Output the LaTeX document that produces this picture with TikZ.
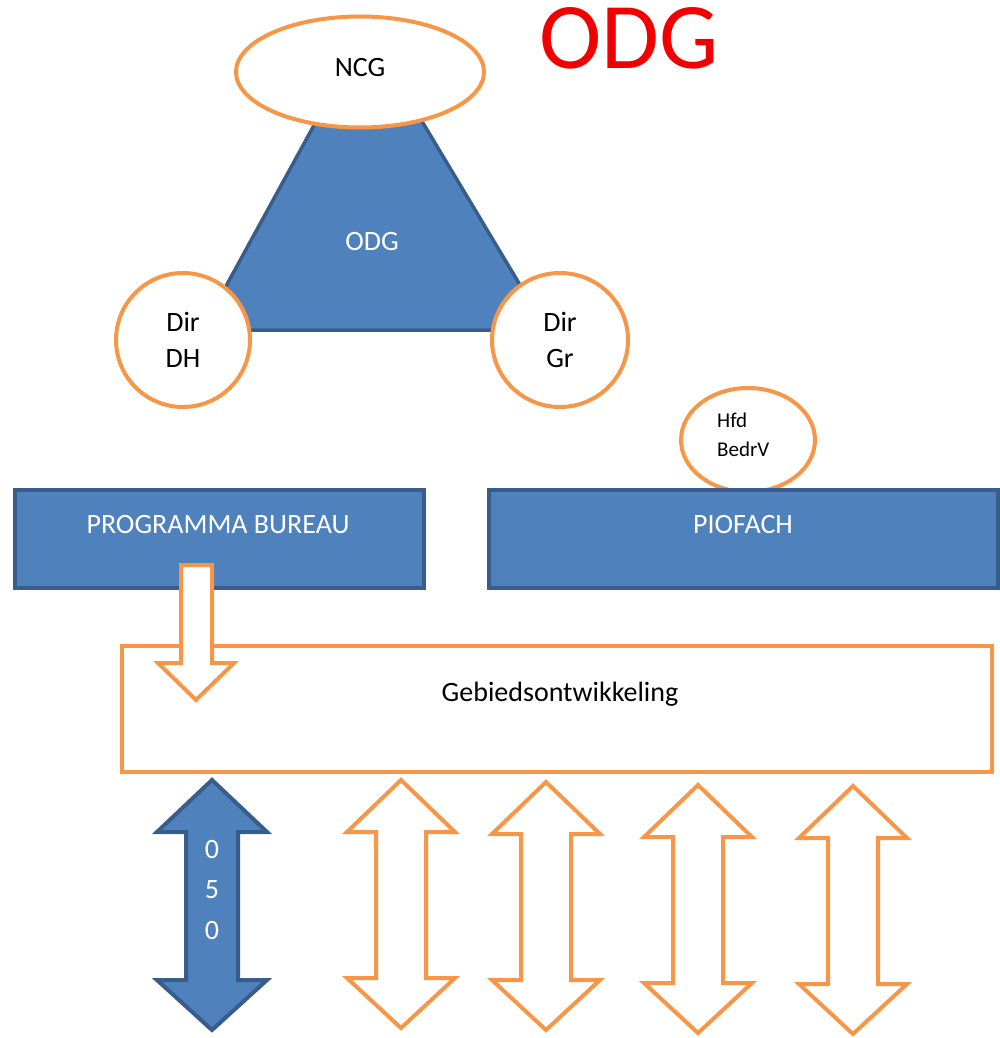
\documentclass[tikz,border=0pt]{standalone}
\usepackage{fontspec}
\setmainfont{Carlito}
\usetikzlibrary{shapes.geometric}
\definecolor{ora}{HTML}{F79646}
\definecolor{bfill}{HTML}{4F81BD}
\definecolor{bdraw}{HTML}{385D8A}
\definecolor{tred}{HTML}{F00000}
\tikzset{
  oval/.style={ellipse, draw=ora, line width=4pt, fill=white, inner sep=0pt},
  bluebox/.style={draw=bdraw, fill=bfill, line width=3.5pt},
  orabox/.style={draw=ora, fill=white, line width=4pt},
  orarrow/.style={draw=ora, fill=white, line width=4pt, line join=miter},
  bluarrow/.style={draw=bdraw, fill=bfill, line width=4pt, line join=miter},
  txt/.style={font=\fontsize{28}{36}\selectfont, align=center, inner sep=0pt},
  wtxt/.style={txt, text=white},
}
\begin{document}
\begin{tikzpicture}[x=1pt,y=-1pt]
\useasboundingbox (0,0) rectangle (1000,1038);
% title
\node[font=\fontsize{94}{94}\selectfont, text=tred, inner sep=0pt, anchor=base] (title) at (629,69) {ODG};
% trapezoid
\draw[bluebox] (318,118) -- (420,118) -- (547,330) -- (202,330) -- cycle;
\node[wtxt] (odg) at (372,242) {ODG};
% NCG ellipse
\node[oval, minimum width=248pt, minimum height=111pt] (ncg) at (360,72) {};
\node[txt] (ncgt) at (360,68) {NCG};
% circles
\node[oval, minimum width=134pt, minimum height=134pt] (dh) at (183,340) {};
\node[txt] (dht) at (183,340) {Dir\\DH};
\node[oval, minimum width=136pt, minimum height=134pt] (gr) at (560,340) {};
\node[txt] (grt) at (560,340) {Dir\\Gr};
% Hfd BedrV
\node[oval, minimum width=134pt, minimum height=104pt] (hfd) at (748,440) {};
\node[font=\fontsize{21}{29}\selectfont, align=left, inner sep=0pt, anchor=west] (hfdt) at (717,435) {Hfd\\BedrV};
% blue boxes
\draw[bluebox] (15,490) rectangle (424,588);
\node[wtxt] (pb) at (218,525) {PROGRAMMA BUREAU};
\draw[bluebox] (489,490) rectangle (998,588);
\node[wtxt] (pio) at (743,525) {PIOFACH};
% Gebiedsontwikkeling
\draw[orabox] (122,646) rectangle (992,772);
\node[txt] (geb) at (560,694) {Gebiedsontwikkeling};
% down arrow
\draw[orarrow] (181,565) -- (212,565) -- (212,663) -- (234,663) -- (196,700) -- (158,663) -- (181,663) -- cycle;
% blue double arrow
\draw[bluarrow] (212,780) -- (267,832) -- (238,832) -- (238,980) -- (267,980) -- (212,1030) -- (157,980) -- (186,980) -- (186,832) -- (157,832) -- cycle;
\node[wtxt] (n0) at (212,850) {0};
\node[wtxt] (n5) at (212,890) {5};
\node[wtxt] (n00) at (212,930) {0};
% orange double arrows
\foreach \cx/\ty in {401/780,546/782,698/785,853/786}{
  \draw[orarrow] (\cx,\ty) -- ({\cx+54},{\ty+52}) -- ({\cx+25},{\ty+52}) -- ({\cx+25},{\ty+198}) -- ({\cx+54},{\ty+198}) -- (\cx,{\ty+248}) -- ({\cx-54},{\ty+198}) -- ({\cx-25},{\ty+198}) -- ({\cx-25},{\ty+52}) -- ({\cx-54},{\ty+52}) -- cycle;
}
\end{tikzpicture}
\end{document}
